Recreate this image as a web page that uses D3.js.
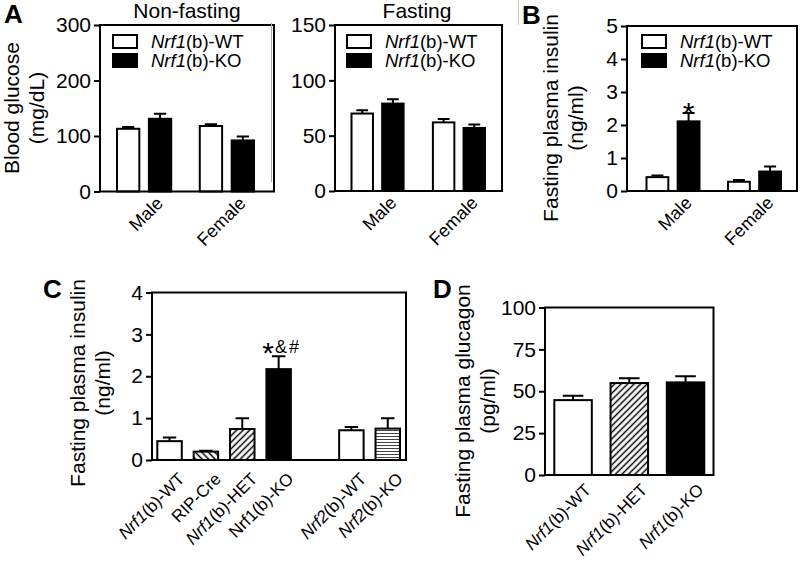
<!DOCTYPE html>
<html><head><meta charset="utf-8">
<script src="https://cdn.jsdelivr.net/npm/d3@7"></script>
<style>
body{margin:0;background:#fff}
svg{display:block}
text{font-family:"Liberation Sans",Arial,Helvetica,sans-serif;fill:#000}
</style>
</head><body>
<svg id="chart" width="800" height="569"></svg>
<script>
// ---------------- data ----------------
const sexes = ["Male", "Female"];
const genotypesAB = ["WT", "KO"];
const legendLabels = ["(b)-WT", "(b)-KO"];

const nonFastWT = [113, 118], nonFastWTErr = [3, 3];
const nonFastKO = [131, 92],  nonFastKOErr = [9, 7];

const fastWT = [70, 62], fastWTErr = [3, 3];
const fastKO = [79, 57], fastKOErr = [4, 3];

const insWT = [0.42, 0.28], insWTErr = [0.05, 0.05];
const insKO = [2.11, 0.59], insKOErr = [0.25, 0.15];

const groupsC = ["Nrf1(b)-WT", "RIP-Cre", "Nrf1(b)-HET", "Nrf1(b)-KO", "gap", "Nrf2(b)-WT", "Nrf2(b)-KO"];
const valuesC = [0.45, 0.20, 0.74, 2.17, null, 0.71, 0.75];
const errC    = [0.09, 0.02, 0.26, 0.31, null, 0.08, 0.25];
const fillsC  = ["open", "back", "fwd", "solid", null, "open", "horiz"];

const groupsD = ["Nrf1(b)-WT", "Nrf1(b)-HET", "Nrf1(b)-KO"];
const valuesD = [44.7, 54.9, 55.3];
const errD    = [2.6, 2.8, 3.7];
const fillsD  = ["open", "fwd", "solid"];

const ticksA1 = [0, 100, 200, 300];
const ticksA2 = [0, 50, 100, 150];
const ticksB  = [0, 1, 2, 3, 4, 5];
const ticksC  = [0, 1, 2, 3, 4];
const ticksD  = [0, 25, 50, 75, 100];

// ---------------- setup ----------------
const svg = d3.select("#chart");
const defs = svg.append("defs");
function hatch(id, angle, size, color, sw) {
  const p = defs.append("pattern").attr("id", id)
    .attr("patternUnits", "userSpaceOnUse")
    .attr("width", size).attr("height", size)
    .attr("patternTransform", `rotate(${angle})`);
  p.append("rect").attr("width", size).attr("height", size).attr("fill", "#fff");
  p.append("line").attr("x1", size / 2).attr("x2", size / 2).attr("y1", -1).attr("y2", size + 1)
    .attr("stroke", color).attr("stroke-width", sw);
}
hatch("fwd", 45, 4.6, "#000", 1.5);
hatch("back", -45, 4.6, "#000", 1.5);
hatch("horiz", 90, 3, "#444", 1);

const fillOf = f => f === "open" ? "#fff" : f === "solid" ? "#000" : `url(#${f})`;

function yAxis(y, ticks, x) {
  const g = svg.append("g").attr("transform", `translate(${x},0)`)
    .call(d3.axisLeft(y).tickValues(ticks).tickFormat(d3.format("d")).tickSize(6).tickPadding(3));
  g.select(".domain").remove();
  g.selectAll(".tick line").attr("stroke", "#000").attr("stroke-width", 2);
  g.selectAll(".tick text").attr("font-size", 21).attr("fill", "#000")
    .attr("font-family", '"Liberation Sans",Arial,sans-serif');
}
function frame(x0, x1, top, bottom) {
  svg.append("rect").attr("x", x0).attr("y", top).attr("width", x1 - x0).attr("height", bottom - top)
    .attr("fill", "none").attr("stroke", "#000").attr("stroke-width", 2);
}
function yTitle(lines, x, yc) {
  lines.forEach((t, i) => {
    svg.append("text").attr("transform", `translate(${x + i * 25},${yc}) rotate(-90)`)
      .attr("text-anchor", "middle").attr("font-size", 21).text(t);
  });
}
function panelLetter(t, x, y) {
  svg.append("text").attr("x", x).attr("y", y).attr("font-size", 26).attr("font-weight", "bold").text(t);
}
function bar(x, w, y, v, e, fill) {
  svg.append("rect").attr("x", x).attr("y", y(v)).attr("width", w).attr("height", y(0) - y(v))
    .attr("fill", fill).attr("stroke", "#000").attr("stroke-width", 2);
  const cx = x + w / 2, cw = w * 0.55;
  svg.append("path")
    .attr("d", `M${cx},${y(v)}V${y(v + e)}M${cx - cw / 2},${y(v + e)}H${cx + cw / 2}`)
    .attr("stroke", "#000").attr("stroke-width", 2).attr("fill", "none");
}
function catLabel(parts, x, y, size) {
  const t = svg.append("text").attr("transform", `translate(${x},${y}) rotate(-45)`)
    .attr("text-anchor", "end").attr("font-size", size);
  parts.forEach(p => t.append("tspan").attr("font-style", p.i ? "italic" : "normal").text(p.t));
}
function splitNrf(label, italic) {
  const m = label.match(/^(Nrf\d)(.*)$/);
  return m ? [{t: m[1], i: italic}, {t: m[2], i: false}] : [{t: label, i: false}];
}

// ---------------- grouped panels (A, B) ----------------
function grouped(cfg) {
  const y = d3.scaleLinear().domain([0, cfg.max]).range([cfg.bottom, cfg.top]);
  const x0 = d3.scaleBand().domain(sexes).range([cfg.barL, cfg.barR]).paddingInner(cfg.pad);
  const x1 = d3.scaleBand().domain(genotypesAB).range([0, x0.bandwidth()]).paddingInner(0.3);
  sexes.forEach((s, i) => {
    bar(x0(s) + x1("WT"), x1.bandwidth(), y, cfg.wt[i], cfg.wtErr[i], "#fff");
    bar(x0(s) + x1("KO"), x1.bandwidth(), y, cfg.ko[i], cfg.koErr[i], "#000");
    catLabel([{t: s, i: false}], x0(s) + x0.bandwidth() / 2 + 20, cfg.bottom + 13, 18);
  });
  frame(cfg.left, cfg.right, cfg.top, cfg.bottom);
  yAxis(y, cfg.ticks, cfg.left);
  // legend
  genotypesAB.forEach((g, i) => {
    const ly = 35 + i * 19;
    svg.append("rect").attr("x", cfg.legX).attr("y", ly).attr("width", 24).attr("height", 13)
      .attr("fill", g === "WT" ? "#fff" : "#000").attr("stroke", "#000").attr("stroke-width", 2);
    const t = svg.append("text").attr("x", cfg.legX + 38).attr("y", ly + 13).attr("font-size", 18.5);
    t.append("tspan").attr("font-style", "italic").text("Nrf1");
    t.append("tspan").text(legendLabels[i]);
  });
  return {y, x0, x1};
}

// A: non-fasting
grouped({max: 300, ticks: ticksA1, left: 100, right: 274, top: 25, bottom: 191.5,
  barL: 117, barR: 254, pad: 0.345, wt: nonFastWT, wtErr: nonFastWTErr, ko: nonFastKO, koErr: nonFastKOErr, legX: 113});
svg.append("text").attr("x", 187).attr("y", 18).attr("text-anchor", "middle").attr("font-size", 21).text("Non-fasting");
yTitle(["Blood glucose", "(mg/dL)"], 19, 108);
panelLetter("A", 4, 23);

// A: fasting
grouped({max: 150, ticks: ticksA2, left: 335, right: 502, top: 25, bottom: 191,
  barL: 351.5, barR: 485, pad: 0.36, wt: fastWT, wtErr: fastWTErr, ko: fastKO, koErr: fastKOErr, legX: 347});
svg.append("text").attr("x", 417).attr("y", 18).attr("text-anchor", "middle").attr("font-size", 21).text("Fasting");

// B
const pB = grouped({max: 5, ticks: ticksB, left: 627, right: 797, top: 26, bottom: 191,
  barL: 646.5, barR: 781, pad: 0.35, wt: insWT, wtErr: insWTErr, ko: insKO, koErr: insKOErr, legX: 642});
svg.append("text")
  .attr("x", pB.x0("Male") + pB.x1("KO") + pB.x1.bandwidth() / 2)
  .attr("y", pB.y(insKO[0] + insKOErr[0]) + 10)
  .attr("text-anchor", "middle").attr("font-size", 30).text("*");
yTitle(["Fasting plasma insulin", "(ng/ml)"], 558, 118);
panelLetter("B", 522, 24);

// ---------------- C ----------------
{
  const left = 152, right = 406, top = 292.5, bottom = 460;
  const y = d3.scaleLinear().domain([0, 4]).range([bottom, top]);
  const x = d3.scaleBand().domain(groupsC).range([157.3, 400]).paddingInner(0.327);
  groupsC.forEach((g, i) => {
    if (valuesC[i] === null) return;
    bar(x(g), x.bandwidth(), y, valuesC[i], errC[i], fillOf(fillsC[i]));
    catLabel(splitNrf(g, g !== "Nrf1(b)-KO"), x(g) + x.bandwidth() / 2 + 16, bottom + 20, 17);
  });
  frame(left, right, top, bottom);
  yAxis(y, ticksC, left);
  const kx = x("Nrf1(b)-KO") + x.bandwidth() / 2;
  const ky = y(valuesC[3] + errC[3]);
  const t = svg.append("text").attr("x", kx + 2).attr("y", ky - 3).attr("text-anchor", "middle").attr("font-size", 18);
  t.append("tspan").attr("font-size", 30).attr("dy", 10).text("*");
  t.append("tspan").attr("dy", -10).attr("dx", 1).text("&");
  t.append("tspan").attr("dx", 2).text("#");
  yTitle(["Fasting plasma insulin", "(ng/ml)"], 85, 383);
  panelLetter("C", 43, 298);
}

// ---------------- D ----------------
{
  const left = 545, right = 713.5, top = 307.5, bottom = 475;
  const y = d3.scaleLinear().domain([0, 100]).range([bottom, top]);
  const x = d3.scaleBand().domain(groupsD).range([554.3, 704.3]).paddingInner(0.333);
  groupsD.forEach((g, i) => {
    bar(x(g), x.bandwidth(), y, valuesD[i], errD[i], fillOf(fillsD[i]));
    catLabel(splitNrf(g, true), x(g) + x.bandwidth() / 2 + 19, bottom + 16, 17);
  });
  frame(left, right, top, bottom);
  yAxis(y, ticksD, left);
  yTitle(["Fasting plasma glucagon", "(pg/ml)"], 470, 401);
  panelLetter("D", 433, 298);
}

// faint panel-border remnants visible in the source figure
svg.append("line").attr("x1", 271.5).attr("x2", 271.5).attr("y1", 23).attr("y2", 182).attr("stroke", "#aaa").attr("stroke-width", 1);
svg.append("line").attr("x1", 518.5).attr("x2", 518.5).attr("y1", 0).attr("y2", 25).attr("stroke", "#ccc").attr("stroke-width", 1);
</script>
</body></html>
